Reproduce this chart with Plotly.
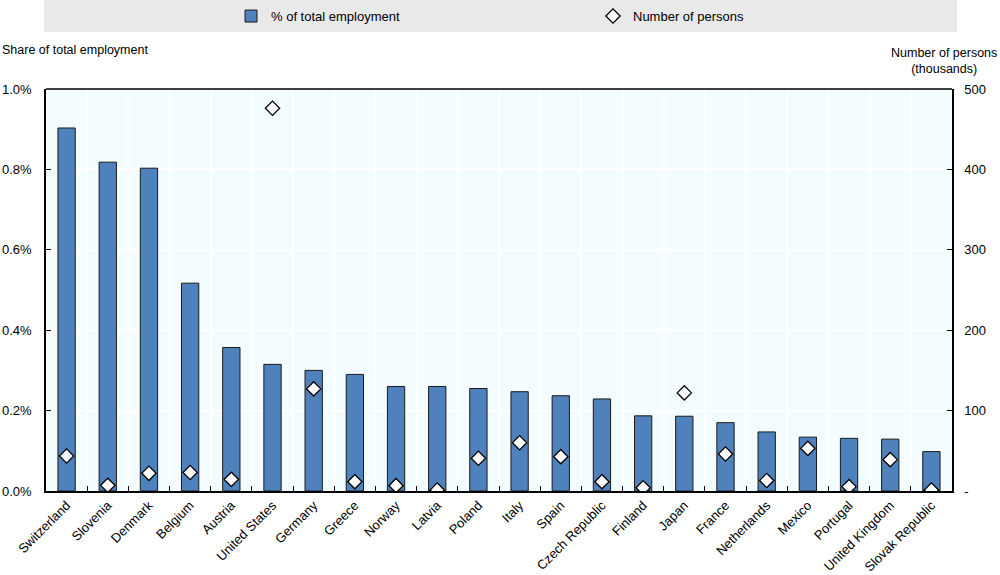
import plotly.graph_objects as go

countries = ["Switzerland", "Slovenia", "Denmark", "Belgium", "Austria", "United States",
             "Germany", "Greece", "Norway", "Latvia", "Poland", "Italy", "Spain",
             "Czech Republic", "Finland", "Japan", "France", "Netherlands", "Mexico",
             "Portugal", "United Kingdom", "Slovak Republic"]
share_pct = [0.903, 0.818, 0.803, 0.517, 0.357, 0.315, 0.300, 0.290, 0.260, 0.260, 0.255,
             0.247, 0.237, 0.229, 0.187, 0.186, 0.170, 0.147, 0.134, 0.131, 0.129, 0.098]
persons_k = [43.5, 7, 22, 23, 14.5, 476, 127, 11.6, 6.6, 1.2, 40.7,
             60, 42.7, 11.6, 4, 122, 46, 13, 53, 5.4, 39, 1.2]

left_ticks = [0, 0.2, 0.4, 0.6, 0.8, 1.0]
left_ticktext = ["0.0%", "0.2%", "0.4%", "0.6%", "0.8%", "1.0%"]
right_ticks = [0, 100, 200, 300, 400, 500]
right_ticktext = ["-", "100", "200", "300", "400", "500"]

REG = "Liberation Sans, Arial, sans-serif"

fig = go.Figure()
fig.add_trace(go.Bar(
    x=countries, y=share_pct, name="% of total employment",
    marker=dict(color="#4F81BD", line=dict(color="#1A1A1A", width=1)),
    width=0.42, yaxis="y",
))
fig.add_trace(go.Scatter(
    x=countries, y=persons_k, name="Number of persons", mode="markers",
    marker=dict(symbol="diamond", size=11, color="white", line=dict(color="black", width=1.3)),
    yaxis="y2",
))

fig.update_layout(
    width=1000, height=575,
    margin=dict(l=46, r=48, t=89, b=84, autoexpand=False),
    paper_bgcolor="white", plot_bgcolor="#F3FDFF",
    font=dict(family=REG, size=12, color="black"),
    showlegend=True,
    legend=dict(orientation="h", xref="container", yref="container",
                x=0.231, xanchor="left", y=0.972, yanchor="middle",
                bgcolor="rgba(0,0,0,0)", entrywidth=317, entrywidthmode="pixels",
                font=dict(family=REG, size=13), itemclick=False),
    xaxis=dict(
        type="category", tickson="boundaries", ticks="inside", ticklen=5,
        tickcolor="black", showgrid=True, gridcolor="white", gridwidth=1.5,
        showline=True, linecolor="black", linewidth=1.5, tickangle=-45,
        tickfont=dict(family=REG, size=13), range=[-0.5, len(countries) - 0.5],
    ),
    yaxis=dict(
        range=[0, 1.0], tickvals=left_ticks, ticktext=left_ticktext,
        ticks="inside", ticklen=5, tickcolor="black", ticklabelstandoff=10,
        showgrid=True, gridcolor="white", gridwidth=1.5,
        showline=True, linecolor="black", linewidth=1.5, zeroline=False,
        tickfont=dict(family=REG, size=13),
    ),
    yaxis2=dict(
        range=[0, 500], tickvals=right_ticks, ticktext=right_ticktext,
        overlaying="y", side="right", ticks="inside", ticklen=5, tickcolor="black",
        ticklabelstandoff=8,
        showgrid=False, showline=True, linecolor="black", linewidth=1.5, zeroline=False,
        tickfont=dict(family=REG, size=13),
    ),
    shapes=[
        dict(type="rect", xref="paper", yref="paper", x0=-0.0022, x1=1.0055,
             y0=1.1418, y1=1.2214, fillcolor="#E9E9E9", line=dict(width=0), layer="below"),
        dict(type="line", xref="paper", yref="paper", x0=0, x1=1, y0=1, y1=1,
             line=dict(color="black", width=1.5)),
    ],
    annotations=[
        dict(text="Share of total employment", xref="paper", yref="paper",
             x=-0.0508, y=1.097, xanchor="left", yanchor="middle", showarrow=False,
             font=dict(family=REG, size=12.5)),
        dict(text="Number of persons<br>(thousands)", xref="paper", yref="paper",
             x=1.052, y=1.0705, xanchor="right", yanchor="middle", align="center",
             showarrow=False, font=dict(family=REG, size=12.5)),
    ],
)

fig.write_html("out.html", config={"displayModeBar": False},
               post_script="document.body.style.margin='0';")
